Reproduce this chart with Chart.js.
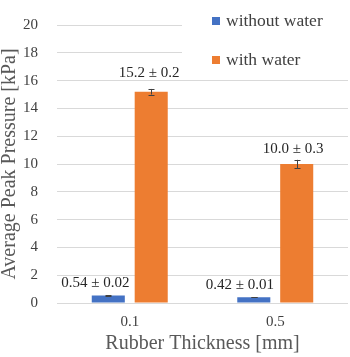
<!DOCTYPE html>
<html>
<head>
<meta charset="utf-8">
<script src="https://cdn.jsdelivr.net/npm/chart.js@4/dist/chart.umd.min.js"></script>
<style>
  html, body { margin: 0; padding: 0; background: #ffffff; }
  #wrap { width: 350px; height: 357px; position: relative; }
</style>
</head>
<body>
<div id="wrap"><canvas id="c" width="350" height="357"></canvas></div>
<script>
const categories = ['0.1', '0.5'];
const seriesNames = ['without water', 'with water'];
const withoutWater = [0.54, 0.42];
const withoutWaterErr = [0.02, 0.01];
const withWater = [15.2, 10.0];
const withWaterErr = [0.2, 0.3];
const withoutWaterLabels = ['0.54 \u00B1 0.02', '0.42 \u00B1 0.01'];
const withWaterLabels = ['15.2 \u00B1 0.2', '10.0 \u00B1 0.3'];
const yMin = 0, yMax = 20, yStep = 2;
const xTitle = 'Rubber Thickness [mm]';
const yTitle = 'Average Peak Pressure [kPa]';

const FONT = '"Liberation Serif", "Times New Roman", serif';
const BLUE = '#4472C4';
const ORANGE = '#ED7D31';

// label placement offsets (px) relative to bar centre / bar top, per dataset & index
const labelOffsets = [
  [{dx: -13, dy: -12}, {dx: -14, dy: -12.5}],
  [{dx: -2, dy: -19}, {dx: -3.5, dy: -15}]
];

const errorBarPlugin = {
  id: 'errorBars',
  afterDatasetsDraw(chart) {
    const ctx = chart.ctx;
    const y = chart.scales.y;
    const errs = [withoutWaterErr, withWaterErr];
    ctx.save();
    ctx.strokeStyle = '#404040';
    ctx.lineWidth = 1;
    chart.data.datasets.forEach((ds, di) => {
      const meta = chart.getDatasetMeta(di);
      meta.data.forEach((bar, i) => {
        const v = ds.data[i], e = errs[di][i];
        const x = Math.round(bar.x) + 0.5;
        const yt = y.getPixelForValue(v + e);
        const yb = y.getPixelForValue(v - e);
        ctx.beginPath();
        ctx.moveTo(x, yt); ctx.lineTo(x, yb);
        ctx.moveTo(x - 3, Math.round(yt) + 0.5); ctx.lineTo(x + 3, Math.round(yt) + 0.5);
        ctx.moveTo(x - 3, Math.round(yb) + 0.5); ctx.lineTo(x + 3, Math.round(yb) + 0.5);
        ctx.stroke();
      });
    });
    ctx.restore();
  }
};

const dataLabelPlugin = {
  id: 'dataLabels',
  afterDatasetsDraw(chart) {
    const ctx = chart.ctx;
    const labels = [withoutWaterLabels, withWaterLabels];
    ctx.save();
    ctx.font = '15px ' + FONT;
    ctx.fillStyle = '#262626';
    ctx.textAlign = 'center';
    ctx.textBaseline = 'middle';
    chart.data.datasets.forEach((ds, di) => {
      const meta = chart.getDatasetMeta(di);
      meta.data.forEach((bar, i) => {
        const o = labelOffsets[di][i];
        ctx.fillText(labels[di][i], bar.x + o.dx, bar.y + o.dy);
      });
    });
    ctx.restore();
  }
};

const legendPlugin = {
  id: 'insideLegend',
  afterDraw(chart) {
    const ctx = chart.ctx;
    ctx.save();
    ctx.fillStyle = '#ffffff';
    ctx.fillRect(182, 0, 168, 80);
    ctx.font = '17.5px ' + FONT;
    ctx.textBaseline = 'middle';
    ctx.textAlign = 'left';
    const rows = [21, 60];
    chart.data.datasets.forEach((ds, di) => {
      ctx.fillStyle = ds.backgroundColor;
      ctx.fillRect(212, rows[di] - 4, 8, 8);
      ctx.fillStyle = '#404040';
      ctx.fillText(ds.label, 226, rows[di] + 0.5);
    });
    ctx.restore();
  }
};

new Chart(document.getElementById('c'), {
  type: 'bar',
  data: {
    labels: categories,
    datasets: [
      { label: seriesNames[0], data: withoutWater, backgroundColor: BLUE, borderWidth: 0,
        categoryPercentage: 0.59, barPercentage: 0.77 },
      { label: seriesNames[1], data: withWater, backgroundColor: ORANGE, borderWidth: 0,
        categoryPercentage: 0.59, barPercentage: 0.77 }
    ]
  },
  options: {
    responsive: false,
    animation: false,
    devicePixelRatio: 1,
    layout: { padding: { top: 6, right: 2, left: 0, bottom: 0 } },
    plugins: {
      legend: { display: false },
      tooltip: { enabled: false }
    },
    scales: {
      x: {
        grid: { display: false, drawTicks: false },
        border: { display: false },
        ticks: { color: '#404040', padding: 10, font: { family: FONT, size: 15, lineHeight: 1.2 } },
        title: { display: true, text: xTitle, color: '#595959',
                 font: { family: FONT, size: 20, lineHeight: 1.0 }, padding: { top: 0, bottom: 3 } },
        afterFit(scale) { scale.height = 54; }
      },
      y: {
        min: yMin, max: yMax,
        grid: { color: '#d9d9d9', lineWidth: 1, drawTicks: false },
        border: { display: false },
        ticks: { stepSize: yStep, color: '#404040', padding: 19,
                 font: { family: FONT, size: 15, lineHeight: 0.8 } },
        title: { display: true, text: yTitle, color: '#595959',
                 font: { family: FONT, size: 20, lineHeight: 1.0 }, padding: { top: 0, bottom: 0 } },
        afterFit(scale) { scale.width = 57; }
      }
    }
  },
  plugins: [errorBarPlugin, dataLabelPlugin, legendPlugin]
});
</script>
</body>
</html>
